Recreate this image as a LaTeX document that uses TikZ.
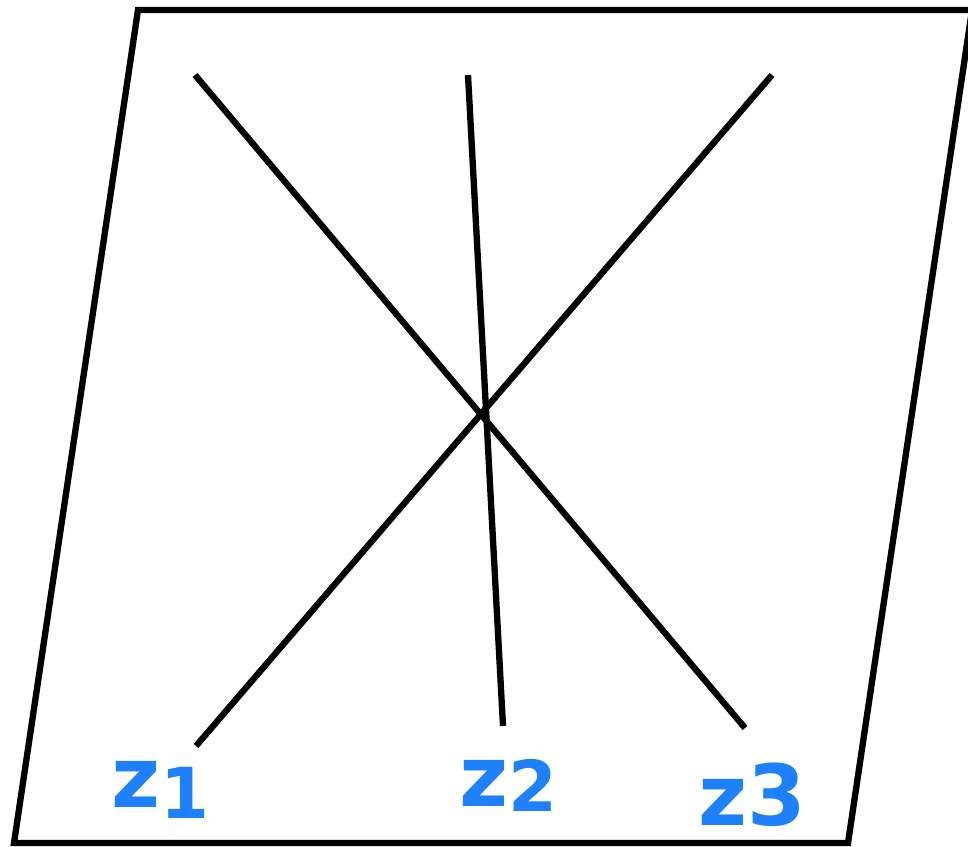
\documentclass[tikz,border=0pt]{standalone}
\usepackage{xcolor}
\usepackage{fontspec}
\setsansfont{DejaVu Sans}
\usetikzlibrary{positioning,calc}
\definecolor{penblue}{RGB}{30,128,250}

\begin{document}
\begin{tikzpicture}[
      x=0.02cm, y=-0.02cm,
      plane/.style={draw=black, line width=3.6pt, line join=miter},
      ray/.style={draw=black, line width=3.6pt},
      lbl/.style={text=penblue, font=\sffamily\bfseries\fontsize{48}{52}\selectfont, inner sep=0pt},
    ]
    \useasboundingbox (0,0) rectangle (968,847);
    % the plane
    \draw [plane] (138,10) -- (972,10) -- (848,843) -- (14,843) -- cycle;
    % end points of the lines
    \coordinate (a1) at (195,75);
    \coordinate (a3) at (745,728);
    \coordinate (b1) at (772,75);
    \coordinate (b3) at (196,746);
    \coordinate (c1) at (468,75);
    \coordinate (c3) at (503,726);
    \draw [ray] (a1) -- (a3);
    \draw [ray] (b1) -- (b3);
    \draw [ray] (c1) -- (c3);
    % labels
    \node [lbl] (z1) at (160,790) {z\raisebox{-0.25ex}{\fontsize{40}{44}\selectfont 1}};
    \node [lbl] (z2) at (508,785) {z\raisebox{-0.1ex}{\fontsize{40}{44}\selectfont 2}};
    \node [lbl] (z3) at (752,795) {z3};
  \end{tikzpicture}
\end{document}
